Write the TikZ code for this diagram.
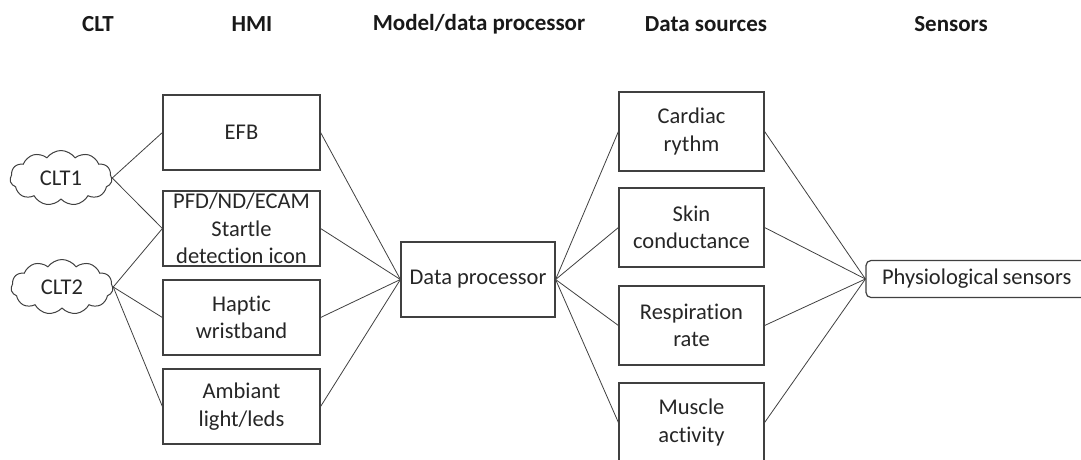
\documentclass[tikz,border=0pt]{standalone}
\usepackage{fontspec}
\setmainfont{Carlito}[Ligatures=NoCommon]
\usetikzlibrary{shapes.symbols}
\definecolor{edge}{HTML}{404040}
\tikzset{
  box/.style={draw=edge, line width=1.2pt, fill=white, align=center, inner sep=0pt,
    font=\fontsize{22.5}{27.5}\selectfont, text=black!85},
  hmi/.style={box, minimum width=157pt, minimum height=75pt},
  src/.style={box, minimum width=145pt, minimum height=79pt},
  cl/.style={cloud, draw=edge, line width=1pt, cloud puffs=11, cloud puff arc=110, aspect=1.9,
    minimum width=102pt, minimum height=55pt, inner sep=0pt, font=\fontsize{22.5}{25}\selectfont, text=black!85},
  hdr/.style={font=\bfseries\fontsize{23}{26}\selectfont, text=black!90},
  link/.style={draw=edge, line width=0.8pt}
}
\begin{document}
\begin{tikzpicture}[x=1pt,y=-1pt]
\useasboundingbox (0,0) rectangle (1081,459);
\node[hdr] (h1) at (98,24) {CLT};
\node[hdr] (h2) at (252,24) {HMI};
\node[hdr] (h3) at (479,24) {Model/data processor};
\node[hdr] (h4) at (706,24) {Data sources};
\node[hdr] (h5) at (951,24) {Sensors};

\node[cl] (c1) at (61,178) {CLT1};
\node[cl] (c2) at (62,287) {CLT2};

\node[hmi] (efb) at (241.5,132.5) {EFB};
\node[hmi] (pfd) at (241.5,228.5) {PFD/ND/ECAM\\Startle\\detection icon};
\node[hmi] (hap) at (241.5,317.5) {Haptic\\wristband};
\node[hmi] (amb) at (241.5,406.5) {Ambiant\\light/leds};

\node[box, minimum width=154pt, minimum height=75pt] (dp) at (478,279.5) {Data processor};

\node[src] (car) at (691.5,131.5) {Cardiac\\rythm};
\node[src] (ski) at (691.5,227.5) {Skin\\conductance};
\node[src] (res) at (691.5,325.5) {Respiration\\rate};
\node[src] (mus) at (691.5,422.5) {Muscle\\activity};

\node[box, rounded corners=5pt, minimum height=37pt, text width=210pt, align=left, inner xsep=16pt] (phy) at (987,279) {Physiological\,sensors};

\draw[link] (c1.east) -- (efb.west);
\draw[link] (c1.east) -- (pfd.west);
\draw[link] (c2.east) -- (pfd.west);
\draw[link] (c2.east) -- (hap.west);
\draw[link] (c2.east) -- (amb.west);
\foreach \n in {efb,pfd,hap,amb} \draw[link] (\n.east) -- (dp.west);
\foreach \n in {car,ski,res,mus} {
  \draw[link] (dp.east) -- (\n.west);
  \draw[link] (\n.east) -- (phy.west);
}
\end{tikzpicture}
\end{document}
